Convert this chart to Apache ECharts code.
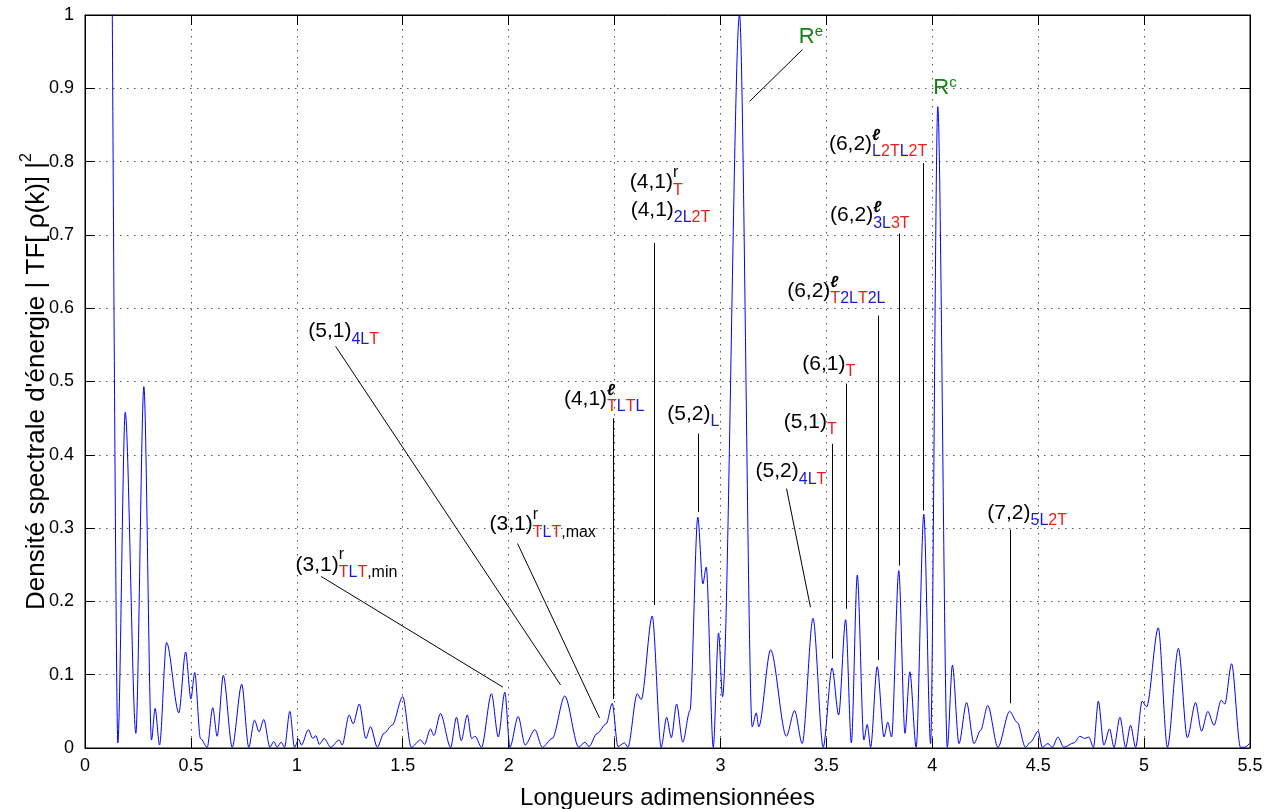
<!DOCTYPE html>
<html>
<head>
<meta charset="utf-8">
<script src="https://cdn.jsdelivr.net/npm/echarts@6/dist/echarts.min.js"></script>
<style>html,body{margin:0;padding:0;background:#fff}#c{width:1278px;height:809px}</style>
</head>
<body>
<div id="c"></div>
<script>
// ---- data ----
const spectrumX = [0.128,0.155,0.190,0.240,0.278,0.314,0.331,0.352,0.385,0.443,0.475,0.500,0.518,0.545,0.577,0.603,0.624,0.653,0.695,0.740,0.773,0.800,0.822,0.844,0.873,0.891,0.907,0.926,0.942,0.967,0.989,1.009,1.022,1.054,1.076,1.090,1.106,1.129,1.160,1.200,1.214,1.247,1.266,1.295,1.326,1.348,1.380,1.411,1.450,1.500,1.540,1.584,1.603,1.631,1.647,1.678,1.726,1.754,1.776,1.805,1.825,1.842,1.872,1.919,1.951,1.982,2.006,2.045,2.078,2.124,2.159,2.206,2.265,2.331,2.360,2.379,2.418,2.461,2.489,2.516,2.547,2.563,2.607,2.626,2.678,2.720,2.746,2.768,2.793,2.822,2.856,2.893,2.917,2.933,2.966,2.991,3.010,3.090,3.150,3.169,3.181,3.237,3.311,3.350,3.386,3.437,3.485,3.527,3.558,3.591,3.618,3.646,3.677,3.693,3.709,3.740,3.772,3.790,3.808,3.842,3.871,3.894,3.924,3.960,3.992,4.026,4.071,4.095,4.126,4.162,4.197,4.228,4.262,4.310,4.365,4.401,4.440,4.464,4.500,4.519,4.546,4.567,4.593,4.621,4.669,4.697,4.719,4.739,4.761,4.784,4.810,4.837,4.858,4.886,4.913,4.936,4.960,4.991,5.012,5.067,5.110,5.162,5.204,5.243,5.271,5.301,5.330,5.364,5.381,5.413,5.455,5.475,5.500];
const spectrumY = [1.05,0.007,0.458,0.020,0.493,0.011,0.054,0.004,0.144,0.048,0.131,0.067,0.103,0.013,0.001,0.055,0.016,0.099,0.001,0.087,0.001,0.038,0.022,0.039,0.001,0.009,0.001,0.008,0.001,0.050,0.001,0.012,0.004,0.025,0.013,0.017,0.005,0.013,0.001,0.011,0.004,0.045,0.033,0.060,0.013,0.029,0.001,0.020,0.031,0.070,0.001,0.011,0.005,0.026,0.017,0.047,0.001,0.042,0.010,0.045,0.013,0.016,0.001,0.074,0.015,0.076,0.001,0.043,0.004,0.025,0.001,0.013,0.071,0.001,0.008,0.002,0.020,0.033,0.061,0.002,0.007,0.001,0.074,0.066,0.180,0.001,0.042,0.014,0.060,0.008,0.051,0.315,0.224,0.247,0.001,0.157,0.070,1.000,0.029,0.048,0.029,0.134,0.016,0.051,0.006,0.177,0.001,0.109,0.045,0.175,0.007,0.236,0.011,0.032,0.001,0.111,0.015,0.035,0.015,0.242,0.020,0.104,0.001,0.319,0.006,0.875,0.001,0.113,0.006,0.062,0.006,0.024,0.058,0.001,0.050,0.035,0.001,0.008,0.023,0.001,0.006,0.001,0.015,0.001,0.007,0.016,0.013,0.015,0.001,0.064,0.004,0.026,0.001,0.042,0.001,0.031,0.001,0.064,0.056,0.164,0.001,0.136,0.014,0.062,0.023,0.050,0.031,0.065,0.060,0.115,0.001,0.001,0.007];

// pointer lines: [x1, y1, x2, y2] in data units
const pointerLines = [
  [3.137,0.882,3.388,0.953],
  [3.956,0.798,3.956,0.324],
  [3.846,0.702,3.846,0.249],
  [3.743,0.590,3.743,0.120],
  [3.594,0.497,3.594,0.190],
  [3.528,0.415,3.528,0.122],
  [3.312,0.354,3.425,0.192],
  [2.895,0.429,2.895,0.322],
  [2.492,0.450,2.492,0.067],
  [2.686,0.689,2.686,0.195],
  [2.042,0.279,2.429,0.041],
  [1.115,0.234,1.973,0.083],
  [1.183,0.548,2.245,0.086],
  [4.370,0.298,4.370,0.061]
];

// annotation anchors (data units) and rich texts
const labelX = [1.054,0.994,1.910,2.261,2.572,2.576,2.749,3.166,3.299,3.386,3.315,3.517,3.512,3.370,4.005,4.260];
const labelY = [0.5685,0.250,0.305,0.476,0.772,0.734,0.456,0.377,0.445,0.524,0.6235,0.727,0.824,0.970,0.901,0.321];
const labelText = [
  '{m|(5,1)}{b|4L}{r|T}',
  '{m|(3,1)}{sr|r}{r|T}{b|L}{r|T}{k|,min}',
  '{m|(3,1)}{sr|r}{r|T}{b|L}{r|T}{k|,max}',
  '{m|(4,1)}{sl|ℓ}{r|T}{b|L}{r|T}{b|L}',
  '{m|(4,1)}{sr|r}{r|T}',
  '{m|(4,1)}{b|2L}{r|2T}',
  '{m|(5,2)}{b|L}',
  '{m|(5,2)}{b|4L}{r|T}',
  '{m|(5,1)}{r|T}',
  '{m|(6,1)}{r|T}',
  '{m|(6,2)}{sl|ℓ}{r|T}{b|2L}{r|T}{b|2L}',
  '{m|(6,2)}{sl|ℓ}{b|3L}{r|3T}',
  '{m|(6,2)}{sl|ℓ}{b|L}{r|2T}{b|L}{r|2T}',
  '{g|R}{gs|e}',
  '{g|R}{gs|c}',
  '{m|(7,2)}{b|5L}{r|2T}'
];

// ---- chart ----
const FONT = "'Liberation Sans', Arial, Helvetica, sans-serif";
const BLUE_T = '#1a1ad2', RED_T = '#f01c1c', GREEN_T = '#128212';
const rich = {
  m:  {fontSize:21, fontFamily:FONT, color:'#000', lineHeight:36, height:36, verticalAlign:'middle', opacity:1},
  b:  {fontSize:16, fontFamily:FONT, color:BLUE_T, lineHeight:20, height:20, verticalAlign:'bottom', opacity:1},
  r:  {fontSize:16, fontFamily:FONT, color:RED_T, lineHeight:20, height:20, verticalAlign:'bottom', opacity:1},
  k:  {fontSize:16, fontFamily:FONT, color:'#000', lineHeight:20, height:20, verticalAlign:'bottom', opacity:1},
  sr: {fontSize:16, fontFamily:FONT, color:'#000', lineHeight:16, height:16, verticalAlign:'top', width:0, opacity:1},
  sl: {fontSize:16, fontFamily:FONT, color:'#000', fontWeight:'bold', fontStyle:'italic', lineHeight:20, height:20, verticalAlign:'top', width:0, opacity:1},
  g:  {fontSize:22, fontFamily:FONT, color:GREEN_T, lineHeight:36, height:36, verticalAlign:'middle', opacity:1},
  gs: {fontSize:15, fontFamily:FONT, color:GREEN_T, lineHeight:26, height:26, verticalAlign:'top', opacity:1}
};

const lineData = spectrumX.map((x, i) => [x, spectrumY[i]]);
const markData = pointerLines.map(p => [{coord:[p[0], p[1]]}, {coord:[p[2], p[3]]}]);
const annData = labelX.map((x, i) => ({value:[x, labelY[i]], label:{formatter: labelText[i]}}));

const gridLine = {show:true, lineStyle:{color:'#555', width:1, type:[1.5,5.5]}};
const tick = {show:true, inside:true, length:10, lineStyle:{color:'#000', width:1}};
const axLine = {show:true, onZero:false, lineStyle:{color:'#000', width:1}};

const chart = echarts.init(document.getElementById('c'), null, {renderer:'canvas'});
chart.setOption({
  animation:false,
  backgroundColor:'#fff',
  grid:{left:85, right:28, top:15, bottom:61, show:true, borderColor:'#000', borderWidth:1,
        backgroundColor:'transparent', containLabel:false, outerBoundsMode:'none'},
  xAxis:[
    {type:'value', min:0, max:5.5, interval:0.5, position:'bottom',
     axisLine:axLine, axisTick:tick, splitLine:gridLine,
     axisLabel:{color:'#000', fontSize:18, fontFamily:FONT, margin:9},
     name:'Longueurs adimensionnées', nameLocation:'middle', nameGap:38, nameMoveOverlap:false,
     nameTextStyle:{fontSize:24, color:'#000', fontFamily:FONT}},
    {type:'value', min:0, max:5.5, interval:0.5, position:'top',
     axisLine:axLine, axisTick:tick, axisLabel:{show:false}, splitLine:{show:false}}
  ],
  yAxis:[
    {type:'value', min:0, max:1, interval:0.1, position:'left',
     axisLine:axLine, axisTick:tick, splitLine:gridLine,
     axisLabel:{color:'#000', fontSize:18, fontFamily:FONT, margin:11},
     name:"Densité spectrale d'énergie | TF[ ρ(k)] |{s|2}", nameLocation:'middle', nameGap:32, nameRotate:90,
     nameMoveOverlap:false,
     nameTextStyle:{fontSize:26, color:'#000', fontFamily:FONT, lineHeight:32,
       rich:{s:{fontSize:16, color:'#000', fontFamily:FONT, lineHeight:12, height:12, verticalAlign:'top'}}}},
    {type:'value', min:0, max:1, interval:0.1, position:'right',
     axisLine:axLine, axisTick:tick, axisLabel:{show:false}, splitLine:{show:false}}
  ],
  series:[
    {type:'line', data:lineData, showSymbol:false, smooth:0.3, smoothMonotone:'x', clip:true,
     lineStyle:{color:'#0000ff', width:1}, itemStyle:{color:'#0000ff'}, silent:true, z:3,
     markLine:{silent:true, symbol:['none','none'], label:{show:false},
       lineStyle:{color:'#000', width:1, type:'solid', opacity:1}, emphasis:{disabled:true}, data:markData}},
    {type:'scatter', data:annData, symbol:'circle', symbolSize:0, silent:true, z:5,
     itemStyle:{color:'rgba(0,0,0,0)', opacity:1},
     label:{show:true, position:'right', distance:0, rich:rich, fontFamily:FONT, opacity:1, color:'#000'}}
  ]
});
</script>
</body>
</html>
